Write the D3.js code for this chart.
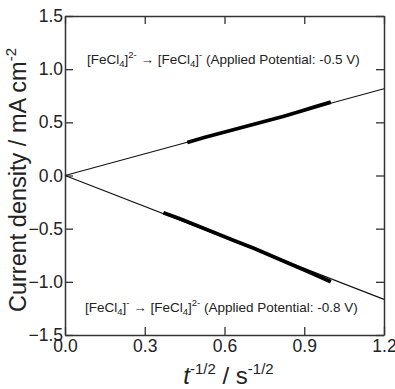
<!DOCTYPE html>
<html>
<head>
<meta charset="utf-8">
<script src="https://cdn.jsdelivr.net/npm/d3@7"></script>
<style>
body { margin: 0; background: #fff; }
text { font-family: "Liberation Sans", Arial, sans-serif; fill: #222; }
</style>
</head>
<body>
<div id="chart"></div>
<script>
// axis ticks
var xTicks = [0.0, 0.3, 0.6, 0.9, 1.2];
var yTicks = [-1.5, -1.0, -0.5, 0.0, 0.5, 1.0, 1.5];

// measured data (thick segments), t^-1/2 vs current density
var oxX = [0.46, 0.52, 0.58, 0.64, 0.70, 0.76, 0.82, 0.88, 0.94, 1.00];
var oxY = [0.31, 0.355, 0.395, 0.435, 0.475, 0.515, 0.555, 0.60, 0.645, 0.69];
var redX = [0.37, 0.43, 0.50, 0.57, 0.64, 0.71, 0.78, 0.85, 0.92, 1.00];
var redY = [-0.35, -0.405, -0.475, -0.545, -0.615, -0.685, -0.76, -0.835, -0.91, -1.00];

// linear fits through the origin
var fitX = [0.0, 1.2];
var oxFitY = [0.0, 0.815];
var redFitY = [0.0, -1.165];

var plotL = 65, plotR = 384, plotT = 16, plotB = 335;

var svg = d3.select("#chart").append("svg")
	.attr("width", 395)
	.attr("height", 389);

var x = d3.scaleLinear().domain([0, 1.2]).range([plotL, plotR]);
var y = d3.scaleLinear().domain([-1.5, 1.5]).range([plotB, plotT]);

// frame with inward ticks on all four sides
svg.append("g").attr("transform", "translate(0," + plotB + ")")
	.call(d3.axisBottom(x).tickValues(xTicks).tickSizeInner(-8).tickSizeOuter(0).tickFormat(d3.format(".1f")))
	.call(g => g.selectAll("text").attr("y", 5).attr("dy", "0.71em").style("font-size", "17.5px"));
svg.append("g").attr("transform", "translate(0," + plotT + ")")
	.call(d3.axisTop(x).tickValues(xTicks).tickSizeInner(-8).tickSizeOuter(0).tickFormat(""));
svg.append("g").attr("transform", "translate(" + plotL + ",0)")
	.call(d3.axisLeft(y).tickValues(yTicks).tickSizeInner(-8).tickSizeOuter(0).tickFormat(d3.format(".1f")))
	.call(g => g.selectAll("text").attr("x", -2).style("font-size", "17.5px"));
svg.append("g").attr("transform", "translate(" + plotR + ",0)")
	.call(d3.axisRight(y).tickValues(yTicks).tickSizeInner(-8).tickSizeOuter(0).tickFormat(""));

svg.selectAll(".domain, .tick line").attr("stroke", "#333").attr("stroke-width", 1.3);
svg.selectAll(".tick text").attr("fill", "#222").style("font-family", "Liberation Sans, Arial, sans-serif");
svg.selectAll(".domain").attr("stroke-width", 1.5);

// fit lines
var fitLine = d3.line().x(d => x(d[0])).y(d => y(d[1]));
svg.append("path")
	.attr("d", fitLine(d3.zip(fitX, oxFitY)))
	.attr("fill", "none").attr("stroke", "#111").attr("stroke-width", 1.1);
svg.append("path")
	.attr("d", fitLine(d3.zip(fitX, redFitY)))
	.attr("fill", "none").attr("stroke", "#111").attr("stroke-width", 1.1);

// data segments
svg.append("path")
	.attr("d", fitLine(d3.zip(oxX, oxY)))
	.attr("fill", "none").attr("stroke", "#000").attr("stroke-width", 3.8);
svg.append("path")
	.attr("d", fitLine(d3.zip(redX, redY)))
	.attr("fill", "none").attr("stroke", "#000").attr("stroke-width", 3.8);

// annotations
function label(xp, yp, first, second, tail) {
	var t = svg.append("text").attr("x", xp).attr("y", yp).style("font-size", "13.5px");
	t.append("tspan").text("[FeCl");
	t.append("tspan").attr("dy", 3).style("font-size", "9.5px").text("4");
	t.append("tspan").attr("dy", -3).text("]");
	t.append("tspan").attr("dy", -6).style("font-size", "9.5px").text(first);
	t.append("tspan").attr("dy", 6).text(" \u2192 [FeCl");
	t.append("tspan").attr("dy", 3).style("font-size", "9.5px").text("4");
	t.append("tspan").attr("dy", -3).text("]");
	t.append("tspan").attr("dy", -6).style("font-size", "9.5px").text(second);
	t.append("tspan").attr("dy", 6).text(" " + tail);
}
label(87, 64, "2-", "-", "(Applied Potential: -0.5 V)");
label(85, 312, "-", "2-", "(Applied Potential: -0.8 V)");

// axis titles
var yt = svg.append("text")
	.attr("transform", "translate(26,180) rotate(-90)")
	.attr("text-anchor", "middle")
	.style("font-size", "23.5px");
yt.append("tspan").text("Current density / mA cm");
yt.append("tspan").attr("dy", -10).style("font-size", "15px").text("-2");

var xt = svg.append("text")
	.attr("x", (plotL + plotR) / 2 + 4).attr("y", 384)
	.attr("text-anchor", "middle")
	.style("font-size", "24px");
xt.append("tspan").style("font-style", "italic").text("t");
xt.append("tspan").attr("dy", -10).style("font-size", "15px").text("-1/2");
xt.append("tspan").attr("dy", 10).text(" / s");
xt.append("tspan").attr("dy", -10).style("font-size", "15px").text("-1/2");
</script>
</body>
</html>
